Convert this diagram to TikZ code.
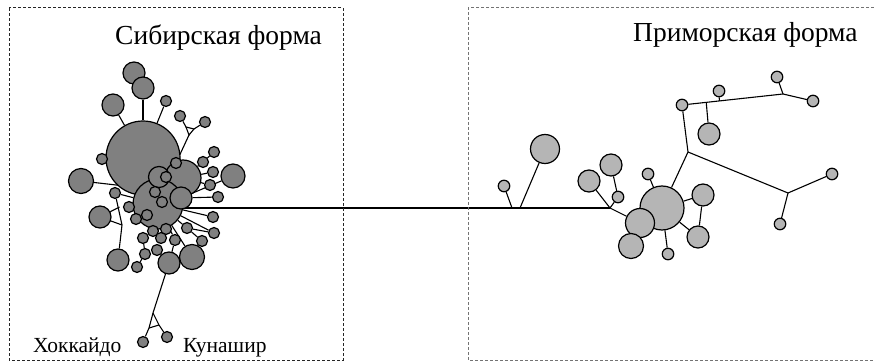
\documentclass[tikz,border=0pt]{standalone}
\usepackage{fontspec}
\setmainfont{Liberation Serif}
\usetikzlibrary{calc,backgrounds}
\definecolor{sibfill}{gray}{0.5}
\definecolor{prifill}{gray}{0.71}
\begin{document}
\begin{tikzpicture}[x=1pt,y=-1pt,
  edge/.style={line width=1.1pt},
  sib/.style={circle,draw,line width=1.2pt,fill=sibfill,inner sep=0pt,minimum size=#1},
  sib/.default=11pt,
  pri/.style={circle,draw,line width=1.2pt,fill=prifill,inner sep=0pt,minimum size=#1},
  pri/.default=11.5pt,
  frame/.style={dash pattern=on 3pt off 2pt,line width=1pt},
  title/.style={anchor=base west,inner sep=0pt,font=\fontsize{27.5}{30}\selectfont},
  place/.style={anchor=base west,inner sep=0pt,font=\fontsize{21.5}{24}\selectfont},
]
\useasboundingbox (0,0) rectangle (874,363);

% frames
\draw[frame,black!85] (9,8) rectangle (343,360);
\draw[frame,black!55] (874,8) -- (468,8) -- (468,360) -- (874,360);

% titles and labels
\node[title] (tsib) at (115,45) {Сибирская форма};
\node[title] (tpri) at (633,42) {Приморская форма};
\node[place] (thok) at (33,352.5) {Хоккайдо};
\node[place] (tkun) at (183,352.5) {Кунашир};

% ---------- Siberian haplotypes ----------
\node[sib=22pt] (c1) at (134,73) {};
\node[sib=22pt] (c2) at (143,88) {};
\node[sib=22pt] (c3) at (113,105) {};
\node[sib] (c4) at (166,101) {};
\node[sib] (c5) at (180,116) {};
\node[sib] (c6) at (205,122) {};
\node[sib=74pt] (c7) at (143,158) {};
\node[sib] (c8) at (102,159) {};
\node[sib=25pt] (c9) at (81,181) {};
\node[sib=36pt] (c16) at (183,178) {};
\node[sib=50pt] (c20) at (158,204) {};
\node[sib=21pt] (c17) at (159,177) {};
\node[sib] (c18) at (166,177) {};
\node[sib] (c19) at (176,163) {};
\node[sib=22pt] (c21) at (181,198) {};
\node[sib] (c23) at (155,192) {};
\node[sib] (c24) at (162,202) {};
\node[sib] (c10) at (214,152) {};
\node[sib] (c11) at (203,162) {};
\node[sib] (c12) at (213,172) {};
\node[sib] (c13) at (210,185) {};
\node[sib=24pt] (c14) at (233,176) {};
\node[sib] (c15) at (218,197) {};
\node[sib] (c22) at (115,193) {};
\node[sib=22pt] (c25) at (100,217) {};
\node[sib] (c26) at (129,207) {};
\node[sib] (c27) at (136,219) {};
\node[sib] (c28) at (147,215) {};
\node[sib] (c29) at (213,217) {};
\node[sib] (c30) at (214,233) {};
\node[sib] (c31) at (187,228) {};
\node[sib] (c32) at (202,241) {};
\node[sib] (c33) at (153,231) {};
\node[sib] (c34) at (166,229) {};
\node[sib] (c35) at (143,238) {};
\node[sib] (c36) at (161,238) {};
\node[sib] (c37) at (175,240) {};
\node[sib] (c38) at (157,250) {};
\node[sib] (c39) at (145,254) {};
\node[sib=22pt] (c40) at (118,260) {};
\node[sib] (c41) at (137,267) {};
\node[sib=22pt] (c42) at (169,263) {};
\node[sib=25pt] (c43) at (192,257) {};
\node[sib] (hok) at (143,342) {};
\node[sib] (kun) at (167,337) {};

% median vectors of the Siberian part
\coordinate (ta) at (186,127);
\coordinate (tb) at (194,129);
\coordinate (tc) at (189,135);
\coordinate (l9) at (125,186);
\coordinate (v1) at (119.5,207);
\coordinate (v2) at (122,225);
\coordinate (ka) at (153,313);
\coordinate (kb) at (149,328);
\coordinate (kc) at (159,325);
\coordinate (h0) at (170,208);

% ---------- Primorye haplotypes ----------
\node[pri=29pt] (r1) at (545,149) {};
\node[pri] (r2) at (504,186) {};
\node[pri=22pt] (r3) at (589,181) {};
\node[pri=22pt] (r4) at (611,165) {};
\node[pri] (r5) at (618,197) {};
\node[pri] (r6) at (648,174) {};
\node[pri=44pt] (r7) at (662,208) {};
\node[pri=29pt] (r8) at (640,223) {};
\node[pri=25pt] (r9) at (631,246) {};
\node[pri=22pt] (r10) at (703,195) {};
\node[pri=22pt] (r11) at (698,237) {};
\node[pri] (r12) at (668,254) {};
\node[pri] (r13) at (682,105) {};
\node[pri] (r14) at (719,91) {};
\node[pri] (r15) at (777,77) {};
\node[pri] (r16) at (813,101) {};
\node[pri=22pt] (r17) at (709,134) {};
\node[pri] (r18) at (832,174) {};
\node[pri] (r19) at (780,224) {};

\coordinate (b1) at (512,208);
\coordinate (b2) at (520,208);
\coordinate (j1) at (610,208);
\coordinate (j2) at (688,152);
\coordinate (j3) at (788,193);
\coordinate (j4) at (783,94);
\coordinate (s17) at ($(r13)!0.24!(j4)$);
\coordinate (s14) at ($(r13)!0.37!(j4)$);

\begin{pgfonlayer}{background}
  % Siberian links
  \draw[edge] (c2) -- (c7);
  \draw[edge] (c3) -- (c7);
  \draw[edge] (c4) -- (c7);
  \draw[edge] (c5) -- (ta) -- (tb) -- (c6);
  \draw[edge] (ta) -- (tc) -- (tb);
  \draw[edge] (tc) -- (c19);
  \draw[edge] (c8) -- (c7);
  \draw[edge] (c9) -- (l9);
  \draw[edge] (c22) -- (v2) -- (c40);
  \draw[edge] (c25) -- (v1);
  \draw[edge] (c25) -- (v2);
  \draw[edge] (c22) -- (c20);
  \draw[edge] (c10) -- (c11) -- (c16);
  \draw[edge] (c12) -- (c16);
  \draw[edge] (c13) -- (c16);
  \draw[edge] (c14) -- (c21);
  \draw[edge] (c15) -- (c21);
  \draw[edge] (c20) -- (c29);
  \draw[edge] (c20) -- (c30);
  \draw[edge] (c20) -- (c31) -- (c30);
  \draw[edge] (c31) -- (c32);
  \draw[edge] (c20) -- (c43);
  \draw[edge] (c20) -- (c37) -- (c42);
  \draw[edge] (c20) -- (c33) -- (c35) -- (c39) -- (c41);
  \draw[edge] (c20) -- (c34) -- (c36) -- (c38);
  \draw[edge] (c42) -- (ka) -- (kb) -- (hok);
  \draw[edge] (ka) -- (kc) -- (kun);
  \draw[edge] (kb) -- (kc);
  % link between the two forms
  \draw[edge] (h0) -- (b1) -- (b2) -- (j1);
  % Primorye links
  \draw[edge] (r2) -- (b1);
  \draw[edge] (r1) -- (b2);
  \draw[edge] (j1) -- (r3);
  \draw[edge] (j1) -- (r5) -- (r4);
  \draw[edge] (j1) -- (r8);
  \draw[edge] (r6) -- (r7);
  \draw[edge] (r7) -- (r10) -- (r11) -- (r7);
  \draw[edge] (r7) -- (r12);
  \draw[edge] (r7) -- (j2) -- (r13) -- (j4);
  \draw[edge] (s17) -- (r17);
  \draw[edge] (s14) -- (r14);
  \draw[edge] (j4) -- (r15);
  \draw[edge] (j4) -- (r16);
  \draw[edge] (j2) -- (j3);
  \draw[edge] (j3) -- (r18);
  \draw[edge] (j3) -- (r19);
\end{pgfonlayer}
\end{tikzpicture}
\end{document}
